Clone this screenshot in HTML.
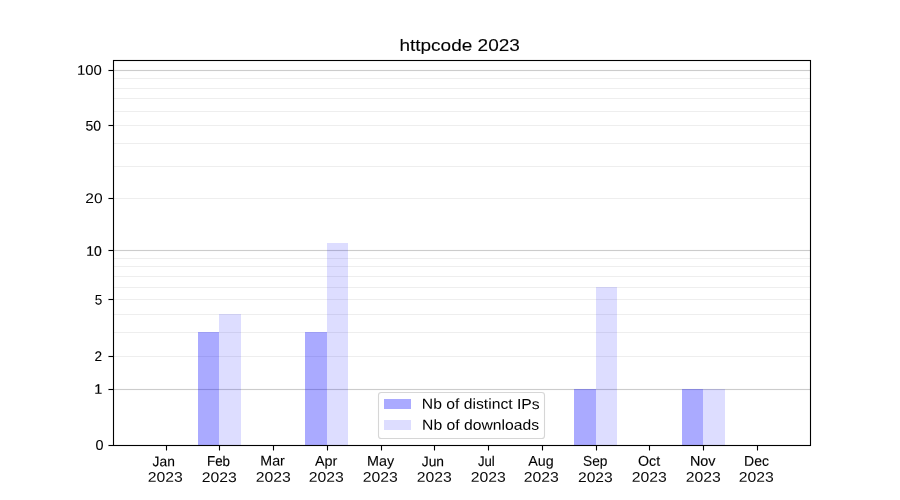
<!DOCTYPE html>
<html><head><meta charset="utf-8"><title>httpcode 2023</title>
<style>
html,body{margin:0;padding:0;background:#fff;width:900px;height:500px;overflow:hidden}
svg{display:block}
text{font-family:"Liberation Sans",sans-serif;fill:#000}
.tx{will-change:transform}
</style></head><body>
<svg width="900" height="500" viewBox="0 0 900 500">
<rect x="0" y="0" width="900" height="500" fill="#ffffff"/>
<g shape-rendering="crispEdges">
<rect x="114" y="78" width="696" height="1" fill="#eeeeee"/>
<rect x="114" y="88" width="696" height="1" fill="#eeeeee"/>
<rect x="114" y="98" width="696" height="1" fill="#eeeeee"/>
<rect x="114" y="111" width="696" height="1" fill="#eeeeee"/>
<rect x="114" y="125" width="696" height="1" fill="#eeeeee"/>
<rect x="114" y="143" width="696" height="1" fill="#eeeeee"/>
<rect x="114" y="166" width="696" height="1" fill="#eeeeee"/>
<rect x="114" y="198" width="696" height="1" fill="#eeeeee"/>
<rect x="114" y="258" width="696" height="1" fill="#eeeeee"/>
<rect x="114" y="266" width="696" height="1" fill="#eeeeee"/>
<rect x="114" y="276" width="696" height="1" fill="#eeeeee"/>
<rect x="114" y="287" width="696" height="1" fill="#eeeeee"/>
<rect x="114" y="299" width="696" height="1" fill="#eeeeee"/>
<rect x="114" y="314" width="696" height="1" fill="#eeeeee"/>
<rect x="114" y="332" width="696" height="1" fill="#eeeeee"/>
<rect x="114" y="356" width="696" height="1" fill="#eeeeee"/>
<rect x="114" y="69" width="696" height="3" fill="#cccccc" fill-opacity="0.06"/>
<rect x="114" y="70" width="696" height="1" fill="#cccccc"/>
<rect x="114" y="249" width="696" height="3" fill="#cccccc" fill-opacity="0.06"/>
<rect x="114" y="250" width="696" height="1" fill="#cccccc"/>
<rect x="114" y="388" width="696" height="3" fill="#cccccc" fill-opacity="0.06"/>
<rect x="114" y="389" width="696" height="1" fill="#cccccc"/>
<rect x="198" y="332" width="21" height="113" fill="#0000ff" fill-opacity="0.3333"/>
<rect x="305" y="332" width="22" height="113" fill="#0000ff" fill-opacity="0.3333"/>
<rect x="574" y="389" width="22" height="56" fill="#0000ff" fill-opacity="0.3333"/>
<rect x="682" y="389" width="21" height="56" fill="#0000ff" fill-opacity="0.3333"/>
<rect x="219" y="314" width="22" height="131" fill="#0000ff" fill-opacity="0.1333"/>
<rect x="327" y="243" width="21" height="202" fill="#0000ff" fill-opacity="0.1333"/>
<rect x="596" y="287" width="21" height="158" fill="#0000ff" fill-opacity="0.1333"/>
<rect x="703" y="389" width="22" height="56" fill="#0000ff" fill-opacity="0.1333"/>
<rect x="113" y="59" width="698" height="3" fill="#000" fill-opacity="0.055"/><rect x="113" y="60" width="698" height="1" fill="#000"/>
<rect x="113" y="444" width="698" height="3" fill="#000" fill-opacity="0.055"/><rect x="113" y="445" width="698" height="1" fill="#000"/>
<rect x="112" y="60" width="3" height="386" fill="#000" fill-opacity="0.055"/><rect x="113" y="60" width="1" height="386" fill="#000"/>
<rect x="809" y="60" width="3" height="386" fill="#000" fill-opacity="0.055"/><rect x="810" y="60" width="1" height="386" fill="#000"/>
<rect x="108" y="69" width="5" height="3" fill="#000" fill-opacity="0.055"/>
<rect x="109" y="70" width="4" height="1" fill="#000"/>
<rect x="108" y="70" width="1" height="1" fill="#000" fill-opacity="0.5"/>
<rect x="108" y="124" width="5" height="3" fill="#000" fill-opacity="0.055"/>
<rect x="109" y="125" width="4" height="1" fill="#000"/>
<rect x="108" y="125" width="1" height="1" fill="#000" fill-opacity="0.5"/>
<rect x="108" y="197" width="5" height="3" fill="#000" fill-opacity="0.055"/>
<rect x="109" y="198" width="4" height="1" fill="#000"/>
<rect x="108" y="198" width="1" height="1" fill="#000" fill-opacity="0.5"/>
<rect x="108" y="249" width="5" height="3" fill="#000" fill-opacity="0.055"/>
<rect x="109" y="250" width="4" height="1" fill="#000"/>
<rect x="108" y="250" width="1" height="1" fill="#000" fill-opacity="0.5"/>
<rect x="108" y="298" width="5" height="3" fill="#000" fill-opacity="0.055"/>
<rect x="109" y="299" width="4" height="1" fill="#000"/>
<rect x="108" y="299" width="1" height="1" fill="#000" fill-opacity="0.5"/>
<rect x="108" y="355" width="5" height="3" fill="#000" fill-opacity="0.055"/>
<rect x="109" y="356" width="4" height="1" fill="#000"/>
<rect x="108" y="356" width="1" height="1" fill="#000" fill-opacity="0.5"/>
<rect x="108" y="388" width="5" height="3" fill="#000" fill-opacity="0.055"/>
<rect x="109" y="389" width="4" height="1" fill="#000"/>
<rect x="108" y="389" width="1" height="1" fill="#000" fill-opacity="0.5"/>
<rect x="108" y="444" width="5" height="3" fill="#000" fill-opacity="0.055"/>
<rect x="109" y="445" width="4" height="1" fill="#000"/>
<rect x="108" y="445" width="1" height="1" fill="#000" fill-opacity="0.5"/>
<rect x="165" y="446" width="3" height="4" fill="#000" fill-opacity="0.055"/>
<rect x="166" y="446" width="1" height="4" fill="#000"/>
<rect x="166" y="450" width="1" height="1" fill="#000" fill-opacity="0.5"/>
<rect x="218" y="446" width="3" height="4" fill="#000" fill-opacity="0.055"/>
<rect x="219" y="446" width="1" height="4" fill="#000"/>
<rect x="219" y="450" width="1" height="1" fill="#000" fill-opacity="0.5"/>
<rect x="272" y="446" width="3" height="4" fill="#000" fill-opacity="0.055"/>
<rect x="273" y="446" width="1" height="4" fill="#000"/>
<rect x="273" y="450" width="1" height="1" fill="#000" fill-opacity="0.5"/>
<rect x="326" y="446" width="3" height="4" fill="#000" fill-opacity="0.055"/>
<rect x="327" y="446" width="1" height="4" fill="#000"/>
<rect x="327" y="450" width="1" height="1" fill="#000" fill-opacity="0.5"/>
<rect x="380" y="446" width="3" height="4" fill="#000" fill-opacity="0.055"/>
<rect x="381" y="446" width="1" height="4" fill="#000"/>
<rect x="381" y="450" width="1" height="1" fill="#000" fill-opacity="0.5"/>
<rect x="433" y="446" width="3" height="4" fill="#000" fill-opacity="0.055"/>
<rect x="434" y="446" width="1" height="4" fill="#000"/>
<rect x="434" y="450" width="1" height="1" fill="#000" fill-opacity="0.5"/>
<rect x="487" y="446" width="3" height="4" fill="#000" fill-opacity="0.055"/>
<rect x="488" y="446" width="1" height="4" fill="#000"/>
<rect x="488" y="450" width="1" height="1" fill="#000" fill-opacity="0.5"/>
<rect x="541" y="446" width="3" height="4" fill="#000" fill-opacity="0.055"/>
<rect x="542" y="446" width="1" height="4" fill="#000"/>
<rect x="542" y="450" width="1" height="1" fill="#000" fill-opacity="0.5"/>
<rect x="595" y="446" width="3" height="4" fill="#000" fill-opacity="0.055"/>
<rect x="596" y="446" width="1" height="4" fill="#000"/>
<rect x="596" y="450" width="1" height="1" fill="#000" fill-opacity="0.5"/>
<rect x="648" y="446" width="3" height="4" fill="#000" fill-opacity="0.055"/>
<rect x="649" y="446" width="1" height="4" fill="#000"/>
<rect x="649" y="450" width="1" height="1" fill="#000" fill-opacity="0.5"/>
<rect x="702" y="446" width="3" height="4" fill="#000" fill-opacity="0.055"/>
<rect x="703" y="446" width="1" height="4" fill="#000"/>
<rect x="703" y="450" width="1" height="1" fill="#000" fill-opacity="0.5"/>
<rect x="756" y="446" width="3" height="4" fill="#000" fill-opacity="0.055"/>
<rect x="757" y="446" width="1" height="4" fill="#000"/>
<rect x="757" y="450" width="1" height="1" fill="#000" fill-opacity="0.5"/>
<rect x="378.5" y="392.5" width="166" height="46" rx="2.8" ry="2.8" fill="#ffffff" fill-opacity="0.8" stroke="#cccccc" stroke-opacity="0.8" stroke-width="1.11" shape-rendering="geometricPrecision"/>
<rect x="384" y="399" width="27" height="10" fill="#0000ff" fill-opacity="0.3333"/>
<rect x="384" y="420" width="27" height="10" fill="#0000ff" fill-opacity="0.1333"/>
</g>
<g class="tx">
<g transform="rotate(0.03 459.6 51.4)"><text x="459.64" y="51.45" text-anchor="middle" font-size="17.4" textLength="120.37" lengthAdjust="spacingAndGlyphs" stroke="#000" stroke-width="0.096">httpcode 2023</text></g>
<g transform="rotate(0.03 103.4 449.7)"><text x="103.45" y="449.67" text-anchor="end" font-size="13.89" textLength="8.01" lengthAdjust="spacingAndGlyphs" stroke="#000" stroke-width="0.114">0</text></g>
<g transform="rotate(0.03 102.3 393.9)"><text x="102.30" y="393.85" text-anchor="end" font-size="13.89" textLength="8.01" lengthAdjust="spacingAndGlyphs" stroke="#000" stroke-width="0.179">1</text></g>
<g transform="rotate(0.03 102.1 361.1)"><text x="102.13" y="361.10" text-anchor="end" font-size="13.89" textLength="7.57" lengthAdjust="spacingAndGlyphs" stroke="#000" stroke-width="0.128">2</text></g>
<g transform="rotate(0.03 102.2 304.5)"><text x="102.22" y="304.49" text-anchor="end" font-size="13.89" textLength="7.53" lengthAdjust="spacingAndGlyphs" stroke="#000" stroke-width="0.062">5</text></g>
<g transform="rotate(0.03 101.8 255.9)"><text x="101.82" y="255.87" text-anchor="end" font-size="13.89" textLength="15.53" lengthAdjust="spacingAndGlyphs" stroke="#000" stroke-width="0.176">10</text></g>
<g transform="rotate(0.03 102.5 203.0)"><text x="102.54" y="202.96" text-anchor="end" font-size="13.89" textLength="17.30" lengthAdjust="spacingAndGlyphs" fill-opacity="0.983">20</text></g>
<g transform="rotate(0.03 101.0 130.5)"><text x="101.03" y="130.53" text-anchor="end" font-size="13.89" textLength="15.54" lengthAdjust="spacingAndGlyphs" stroke="#000" stroke-width="0.119">50</text></g>
<g transform="rotate(0.03 101.9 74.8)"><text x="101.87" y="74.79" text-anchor="end" font-size="13.89" textLength="24.86" lengthAdjust="spacingAndGlyphs" stroke="#000" stroke-width="0.059">100</text></g>
<g transform="rotate(0.03 163.7 466.3)"><text x="163.72" y="466.28" text-anchor="middle" font-size="14.1" textLength="22.24" lengthAdjust="spacingAndGlyphs" stroke="#000" stroke-width="0.132">Jan</text></g>
<g transform="rotate(0.03 165.3 481.9)"><text x="165.27" y="481.87" text-anchor="middle" font-size="13.89" textLength="35.07" lengthAdjust="spacingAndGlyphs" fill-opacity="0.973">2023</text></g>
<g transform="rotate(0.03 218.6 465.9)"><text x="218.56" y="465.88" text-anchor="middle" font-size="14.1" textLength="22.95" lengthAdjust="spacingAndGlyphs" stroke="#000" stroke-width="0.176">Feb</text></g>
<g transform="rotate(0.03 219.3 481.9)"><text x="219.28" y="481.93" text-anchor="middle" font-size="13.89" textLength="35.04" lengthAdjust="spacingAndGlyphs" fill-opacity="0.975">2023</text></g>
<g transform="rotate(0.03 272.6 465.5)"><text x="272.61" y="465.50" text-anchor="middle" font-size="14.1" textLength="24.53" lengthAdjust="spacingAndGlyphs" stroke="#000" stroke-width="0.111">Mar</text></g>
<g transform="rotate(0.03 273.3 481.9)"><text x="273.27" y="481.87" text-anchor="middle" font-size="13.89" textLength="35.07" lengthAdjust="spacingAndGlyphs" fill-opacity="0.973">2023</text></g>
<g transform="rotate(0.03 326.2 465.7)"><text x="326.20" y="465.73" text-anchor="middle" font-size="14.1" textLength="22.40" lengthAdjust="spacingAndGlyphs" stroke="#000" stroke-width="0.084">Apr</text></g>
<g transform="rotate(0.03 326.3 481.9)"><text x="326.27" y="481.87" text-anchor="middle" font-size="13.89" textLength="35.07" lengthAdjust="spacingAndGlyphs" fill-opacity="0.973">2023</text></g>
<g transform="rotate(0.03 380.7 465.7)"><text x="380.71" y="465.66" text-anchor="middle" font-size="14.1" textLength="27.16" lengthAdjust="spacingAndGlyphs" stroke="#000" stroke-width="0.110">May</text></g>
<g transform="rotate(0.03 380.3 481.9)"><text x="380.27" y="481.87" text-anchor="middle" font-size="13.89" textLength="35.07" lengthAdjust="spacingAndGlyphs" fill-opacity="0.973">2023</text></g>
<g transform="rotate(0.03 432.9 466.3)"><text x="432.90" y="466.25" text-anchor="middle" font-size="14.1" textLength="22.26" lengthAdjust="spacingAndGlyphs" stroke="#000" stroke-width="0.140">Jun</text></g>
<g transform="rotate(0.03 434.3 481.9)"><text x="434.27" y="481.87" text-anchor="middle" font-size="13.89" textLength="35.07" lengthAdjust="spacingAndGlyphs" fill-opacity="0.973">2023</text></g>
<g transform="rotate(0.03 486.4 466.3)"><text x="486.41" y="466.26" text-anchor="middle" font-size="14.1" textLength="16.79" lengthAdjust="spacingAndGlyphs" stroke="#000" stroke-width="0.139">Jul</text></g>
<g transform="rotate(0.03 488.3 481.9)"><text x="488.27" y="481.87" text-anchor="middle" font-size="13.89" textLength="35.07" lengthAdjust="spacingAndGlyphs" fill-opacity="0.973">2023</text></g>
<g transform="rotate(0.03 541.0 465.8)"><text x="540.98" y="465.79" text-anchor="middle" font-size="14.1" textLength="25.44" lengthAdjust="spacingAndGlyphs" stroke="#000" stroke-width="0.093">Aug</text></g>
<g transform="rotate(0.03 541.3 481.9)"><text x="541.27" y="481.87" text-anchor="middle" font-size="13.89" textLength="35.07" lengthAdjust="spacingAndGlyphs" fill-opacity="0.973">2023</text></g>
<g transform="rotate(0.03 595.2 465.8)"><text x="595.22" y="465.76" text-anchor="middle" font-size="14.1" textLength="24.46" lengthAdjust="spacingAndGlyphs" stroke="#000" stroke-width="0.088">Sep</text></g>
<g transform="rotate(0.03 595.3 481.9)"><text x="595.35" y="481.92" text-anchor="middle" font-size="13.89" textLength="34.76" lengthAdjust="spacingAndGlyphs" fill-opacity="0.975">2023</text></g>
<g transform="rotate(0.03 649.1 465.6)"><text x="649.08" y="465.65" text-anchor="middle" font-size="14.1" textLength="22.13" lengthAdjust="spacingAndGlyphs" stroke="#000" stroke-width="0.128">Oct</text></g>
<g transform="rotate(0.03 649.3 481.9)"><text x="649.27" y="481.87" text-anchor="middle" font-size="13.89" textLength="35.07" lengthAdjust="spacingAndGlyphs" fill-opacity="0.973">2023</text></g>
<g transform="rotate(0.03 702.7 465.8)"><text x="702.65" y="465.76" text-anchor="middle" font-size="14.1" textLength="25.55" lengthAdjust="spacingAndGlyphs" stroke="#000" stroke-width="0.150">Nov</text></g>
<g transform="rotate(0.03 703.3 481.9)"><text x="703.27" y="481.87" text-anchor="middle" font-size="13.89" textLength="35.07" lengthAdjust="spacingAndGlyphs" fill-opacity="0.973">2023</text></g>
<g transform="rotate(0.03 756.6 465.8)"><text x="756.56" y="465.79" text-anchor="middle" font-size="14.1" textLength="24.88" lengthAdjust="spacingAndGlyphs" stroke="#000" stroke-width="0.125">Dec</text></g>
<g transform="rotate(0.03 756.3 481.9)"><text x="756.27" y="481.87" text-anchor="middle" font-size="13.89" textLength="35.07" lengthAdjust="spacingAndGlyphs" fill-opacity="0.973">2023</text></g>
<g transform="rotate(0.03 421.8 408.8)"><text x="421.82" y="408.84" text-anchor="start" font-size="14.4" textLength="117.87" lengthAdjust="spacingAndGlyphs" fill-opacity="0.994">Nb of distinct IPs</text></g>
<g transform="rotate(0.03 422.1 429.8)"><text x="422.13" y="429.81" text-anchor="start" font-size="14.4" textLength="116.93" lengthAdjust="spacingAndGlyphs" stroke="#000" stroke-width="0.012">Nb of downloads</text></g>
</g>
</svg>
</body></html>
